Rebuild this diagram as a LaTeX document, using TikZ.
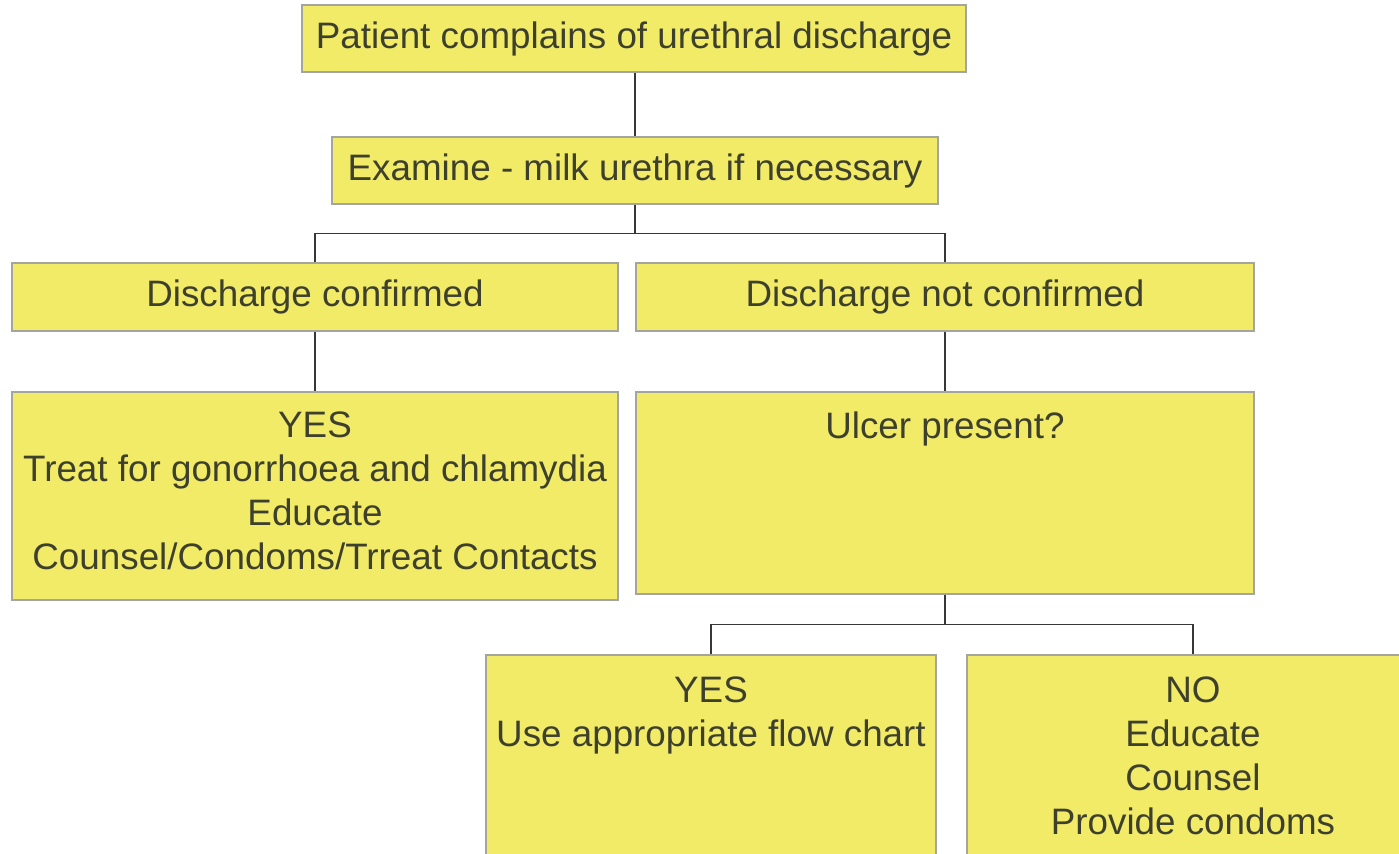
\documentclass[tikz,border=0pt]{standalone}
\usepackage{fontspec}
\setmainfont{Liberation Sans}
\usetikzlibrary{positioning}
\definecolor{chartyellow}{RGB}{242,235,104}
\definecolor{chartedge}{RGB}{165,165,160}
\definecolor{chartline}{RGB}{55,55,55}
\definecolor{charttext}{RGB}{62,64,46}
\tikzset{mbox/.style={draw=chartedge,fill=chartyellow,line width=0.7pt,inner sep=0pt,text=charttext,font=\fontsize{18.4}{22}\selectfont}}
\tikzset{mtext/.style={align=center,inner sep=0pt,anchor=north,text=charttext,font=\fontsize{18.4}{22}\selectfont}}
\tikzset{mline/.style={draw=chartline,line width=0.75pt}}

\begin{document}
\begin{tikzpicture}[x=0.5pt,y=-0.5pt]
\useasboundingbox (0,0) rectangle (1399,854);
\clip (0,0) rectangle (1399,854);

\node[mbox,minimum width=332pt,minimum height=33.5pt] (complaint) at (634,38.5) {Patient complains of urethral discharge};
\node[mbox,minimum width=303pt,minimum height=33.5pt] (examine) at (635,170.5) {Examine - milk urethra if necessary};

\node[mbox,minimum width=303pt,minimum height=34pt] (confirmed) at (315,297) {Discharge confirmed};
\node[mbox,minimum width=309pt,minimum height=34pt] (notconfirmed) at (945,297) {Discharge not confirmed};

\node[mbox,minimum width=303pt,minimum height=104pt] (treat) at (315,496) {};
\node[mtext] (treattext) at ([yshift=-10pt]treat.north) {YES\\Treat for gonorrhoea and chlamydia\\Educate\\Counsel/Condoms/Trreat Contacts};
\node[mbox,minimum width=309pt,minimum height=101pt] (ulcer) at (945,493) {};
\node[mtext] (ulcertext) at ([yshift=-10pt]ulcer.north) {Ulcer present?};

\node[mbox,minimum width=225pt,minimum height=115pt] (flowchart) at (711,770) {};
\node[mtext] (flowcharttext) at ([yshift=-11pt]flowchart.north) {YES\\Use appropriate flow chart};
\node[mbox,minimum width=226pt,minimum height=115pt] (advice) at (1193,770) {};
\node[mtext] (advicetext) at ([yshift=-11pt]advice.north) {NO\\Educate\\Counsel\\Provide condoms};

\draw[mline] (examine.north) -- (examine.north |- complaint.south);
\draw[mline] (examine.south) -- ++(0,29) -| (confirmed.north);
\draw[mline] (examine.south) -- ++(0,29) -| (notconfirmed.north);
\draw[mline] (confirmed) -- (treat);
\draw[mline] (notconfirmed) -- (ulcer);
\draw[mline] (ulcer.south) -- ++(0,30) -| (flowchart.north);
\draw[mline] (ulcer.south) -- ++(0,30) -| (advice.north);

\end{tikzpicture}
\end{document}
